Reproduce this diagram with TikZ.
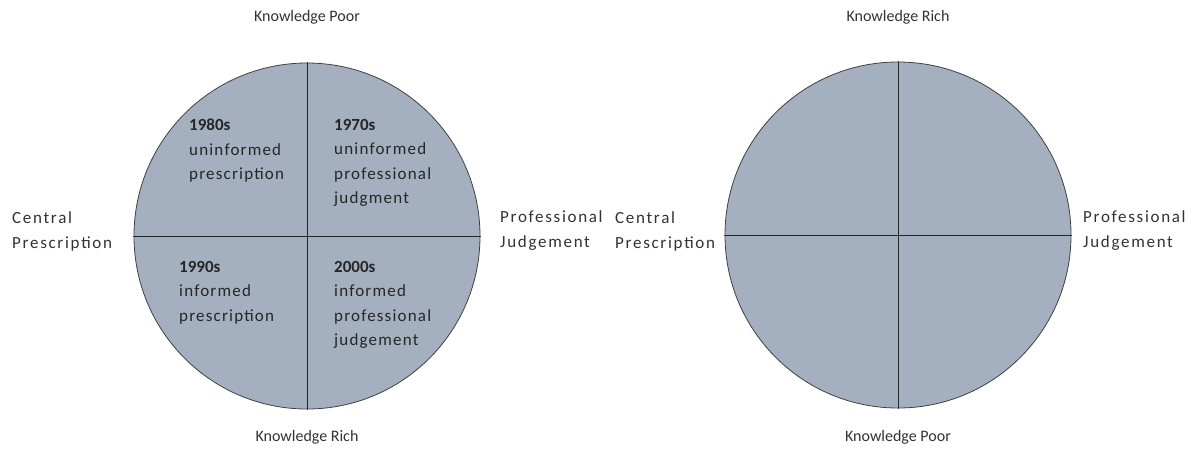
\documentclass[tikz,border=0pt]{standalone}
\usepackage{fontspec}
\setmainfont{Carlito}
\newfontfamily\widefont[LetterSpace=10]{Carlito}
\newfontfamily\quadfont[LetterSpace=7]{Carlito}
\usetikzlibrary{positioning}
\definecolor{quadfill}{RGB}{164,176,191}
\definecolor{labgray}{RGB}{50,50,50}
\begin{document}
\begin{tikzpicture}[x=1pt,y=-1pt, line join=round, line cap=round,
    disc/.style={circle,draw=black!75,fill=quadfill,minimum size=346pt,inner sep=0pt,line width=0.8pt},
    cross/.style={draw=black!85,line width=0.9pt},
    lab/.style={font=\fontsize{16}{25}\selectfont,text=labgray,align=left,inner sep=0pt},
    side/.style={lab,font=\widefont\fontsize{17}{25}\selectfont,anchor=west},
    quad/.style={font=\quadfont\fontsize{17}{24.5}\selectfont,text=black!85,align=left,inner sep=0pt,anchor=north west}]
    \useasboundingbox (0,0) rectangle (1193,451);
    % left circle
    \node[disc] (L) at (307,236) {};
    \draw[cross] (L.north)--(L.south);
    \draw[cross] (L.west)--(L.east);
    \node[quad] (q80) at (189,119) {{\normalfont\bfseries 1980s}\\uninformed\\prescription};
    \node[quad] (q70) at (334,119) {{\normalfont\bfseries 1970s}\\uninformed\\professional\\judgment};
    \node[quad] (q90) at (179,261) {{\normalfont\bfseries 1990s}\\informed\\prescription};
    \node[quad] (q00) at (334,261) {{\normalfont\bfseries 2000s}\\informed\\professional\\judgement};
    \node[lab] (Ltop) at (307,17) {Knowledge Poor};
    \node[lab] (Lbot) at (307,437) {Knowledge Rich};
    \node[side] (Lw) at (12,231) {Central\\Prescription};
    \node[side] (Le) at (500,231) {Professional\\Judgement};
    % right circle
    \node[disc] (R) at (898,235) {};
    \draw[cross] (R.north)--(R.south);
    \draw[cross] (R.west)--(R.east);
    \node[lab] (Rtop) at (898,17) {Knowledge Rich};
    \node[lab] (Rbot) at (898,437) {Knowledge Poor};
    \node[side] (Rw) at (615,231) {Central\\Prescription};
    \node[side] (Re) at (1083,231) {Professional\\Judgement};
\end{tikzpicture}
\end{document}
